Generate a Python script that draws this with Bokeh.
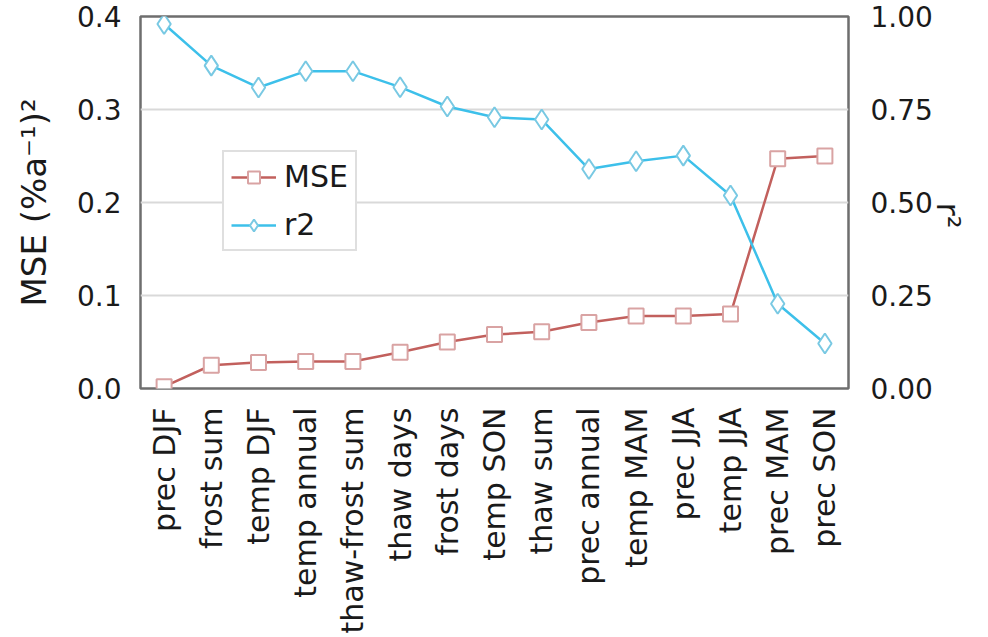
import math
from bokeh.plotting import figure
from bokeh.models import (Range1d, LinearAxis, FixedTicker, NumeralTickFormatter,
                          Legend, LegendItem, ColumnDataSource, FactorRange)
from bokeh.embed import file_html
from bokeh.resources import INLINE

# Predictors, ordered by increasing mean squared error
categories = ["prec DJF", "frost sum", "temp DJF", "temp annual", "thaw-frost sum",
              "thaw days", "frost days", "temp SON", "thaw sum", "prec annual",
              "temp MAM", "prec JJA", "temp JJA", "prec MAM", "prec SON"]
mse = [0.002, 0.025, 0.028, 0.029, 0.029, 0.039, 0.050, 0.058, 0.061, 0.071,
       0.078, 0.078, 0.080, 0.247, 0.250]
r2 = [0.98, 0.868, 0.809, 0.853, 0.853, 0.81, 0.758, 0.729, 0.723, 0.59,
      0.611, 0.626, 0.519, 0.228, 0.121]

mse_ticks = [0.0, 0.1, 0.2, 0.3, 0.4]
r2_ticks = [0.0, 0.25, 0.5, 0.75, 1.0]

FONT = "DejaVu Sans"
MSE_LINE = "#c2605d"
MSE_MARK = "#d9a3a3"
R2_LINE = "#3dc0ea"
R2_MARK = "#79c9e3"

src = ColumnDataSource(dict(cat=categories, mse=mse, r2=r2))

p = figure(width=988, height=637, x_range=FactorRange(*categories),
           y_range=Range1d(0, 0.4), output_backend="svg", toolbar_location=None,
           min_border_left=140, min_border_right=133, min_border_top=16,
           min_border_bottom=249)
p.extra_y_ranges = {"r2": Range1d(0, 1)}

p.outline_line_color = "#6e6e6e"
p.outline_line_width = 2.5
p.xgrid.grid_line_color = None
p.ygrid.grid_line_color = "#d9d9d9"
p.ygrid.grid_line_width = 2
p.ygrid.ticker = FixedTicker(ticks=mse_ticks)

# left axis: MSE
ya = p.yaxis[0]
ya.ticker = FixedTicker(ticks=mse_ticks)
ya.formatter = NumeralTickFormatter(format="0.0")
ya.axis_label = "MSE (%a\u207b\u00b9)\u00b2"

# right axis: r2, label read top to bottom
ra = LinearAxis(y_range_name="r2", ticker=FixedTicker(ticks=r2_ticks),
                formatter=NumeralTickFormatter(format="0.00"), axis_label="r\u00b2")
ra.axis_label_orientation = -math.pi / 2
p.add_layout(ra, "right")

for ax in [p.xaxis[0], ya, ra]:
    ax.axis_line_color = None
    ax.major_tick_line_color = None
    ax.minor_tick_line_color = None
    ax.major_label_text_font = FONT
    ax.major_label_text_color = "#1a1a1a"
    ax.axis_label_text_font = FONT
    ax.axis_label_text_font_style = "normal"
    ax.axis_label_text_color = "#1a1a1a"

ya.major_label_text_font_size = "28px"
ya.major_label_standoff = 13
ya.axis_label_text_font_size = "34px"
ya.axis_label_standoff = 20
ra.major_label_text_font_size = "28px"
ra.major_label_standoff = 16
ra.axis_label_text_font_size = "32px"
ra.axis_label_standoff = 12

xa = p.xaxis[0]
xa.major_label_orientation = math.pi / 2
xa.major_label_text_font_size = "30px"
xa.major_label_standoff = 13

l_mse = p.line("cat", "mse", source=src, line_color=MSE_LINE, line_width=2.5)
m_mse = p.scatter("cat", "mse", source=src, marker="square", size=15,
                  fill_color="white", line_color=MSE_MARK, line_width=2)
l_r2 = p.line("cat", "r2", source=src, y_range_name="r2", line_color=R2_LINE, line_width=2.5)
m_r2 = p.scatter("cat", "r2", source=src, y_range_name="r2", marker="diamond", size=20,
                 fill_color="white", line_color=R2_MARK, line_width=2)

legend = Legend(items=[LegendItem(label="MSE", renderers=[l_mse, m_mse]),
                       LegendItem(label="r2", renderers=[l_r2, m_r2])],
                location=(82, 137))
legend.label_text_font = FONT
legend.label_text_font_size = "30px"
legend.label_text_color = "#1a1a1a"
legend.glyph_width = 45
legend.glyph_height = 30
legend.label_height = 30
legend.label_standoff = 8
legend.spacing = 13
legend.padding = 7
legend.margin = 0
legend.border_line_color = "#bfbfbf"
legend.border_line_width = 2
legend.background_fill_alpha = 1
p.add_layout(legend, "center")

open("out.html", "w").write(file_html(p, INLINE))
